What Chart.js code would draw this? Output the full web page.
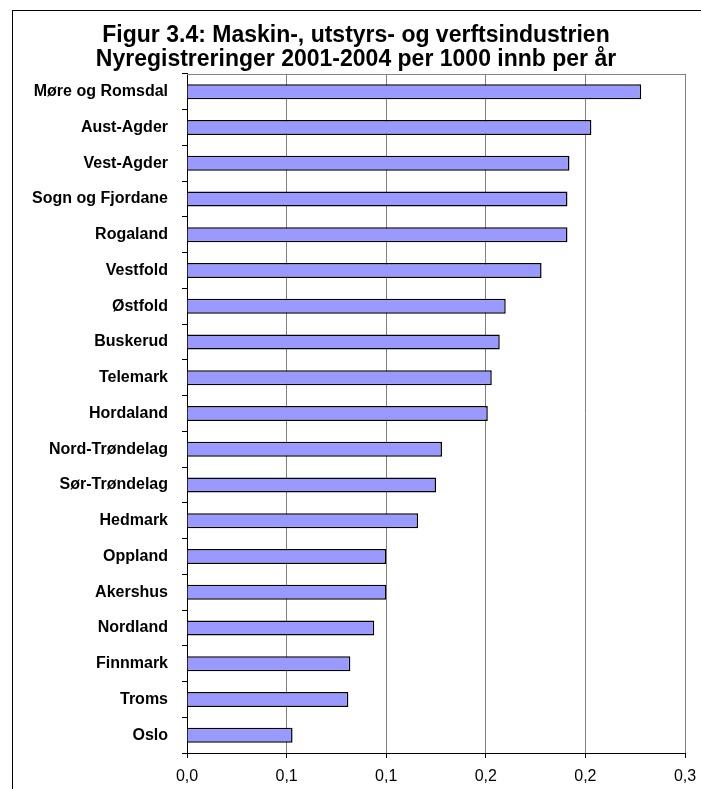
<!DOCTYPE html>
<html lang="no">
<head>
  <meta charset="UTF-8">
  <title>Figur 3.4</title>
  <script src="https://cdn.jsdelivr.net/npm/chart.js"></script>
  <style>
    html, body {
      margin: 0;
      padding: 0;
      background: #fff;
    }
    #chart-container {
      width: 701px;
      height: 789px;
    }
  </style>
</head>
<body>
  <div id="chart-container">
    <canvas id="myChart"></canvas>
  </div>

  <script>
    // fylker, sortert slik de står i figuren (øverst til nederst)
    const fylker = [
      'Møre og Romsdal', 'Aust-Agder', 'Vest-Agder', 'Sogn og Fjordane', 'Rogaland',
      'Vestfold', 'Østfold', 'Buskerud', 'Telemark', 'Hordaland',
      'Nord-Trøndelag', 'Sør-Trøndelag', 'Hedmark', 'Oppland', 'Akershus',
      'Nordland', 'Finnmark', 'Troms', 'Oslo'
    ];

    // nyregistreringer per 1000 innb per år
    const verdier = [
      0.228, 0.203, 0.192, 0.191, 0.191,
      0.178, 0.160, 0.157, 0.153, 0.151,
      0.128, 0.125, 0.116, 0.100, 0.100,
      0.094, 0.082, 0.081, 0.053
    ];

    // aksetekster slik Excel viste dem (en desimal)
    const xTickLabels = ['0,0', '0,1', '0,1', '0,2', '0,2', '0,3'];

    const tittel = [
      'Figur 3.4: Maskin-, utstyrs- og verftsindustrien',
      'Nyregistreringer 2001-2004 per 1000 innb per år'
    ];

    const fontFamily = "'Liberation Sans', Arial, sans-serif";

    // ramme rundt hele diagrammet og grå kant rundt plottet
    const rammePlugin = {
      id: 'ramme',
      beforeDraw(chart) {
        const { ctx } = chart;
        ctx.save();
        ctx.strokeStyle = '#000';
        ctx.lineWidth = 1;
        ctx.strokeRect(12.5, 10.5, chart.width + 10, chart.height + 10);
        ctx.restore();
      },
      afterDatasetsDraw(chart) {
        const { ctx, chartArea } = chart;
        ctx.save();
        ctx.strokeStyle = '#808080';
        ctx.lineWidth = 1;
        ctx.beginPath();
        ctx.moveTo(chartArea.left, chartArea.top + 0.5);
        ctx.lineTo(chartArea.right + 0.5, chartArea.top + 0.5);
        ctx.lineTo(chartArea.right + 0.5, chartArea.bottom);
        ctx.stroke();
        ctx.restore();
      }
    };

    const ctx = document.getElementById('myChart').getContext('2d');
    const myChart = new Chart(ctx, {
      type: 'bar',
      data: {
        labels: fylker,
        datasets: [{
          data: verdier,
          backgroundColor: '#9999FF',
          borderColor: '#000',
          borderWidth: 1.5,
          barPercentage: 0.42,
          categoryPercentage: 1
        }]
      },
      options: {
        indexAxis: 'y',
        responsive: true,
        maintainAspectRatio: false,
        animation: false,
        layout: {
          padding: { left: 27, right: 16, top: 0, bottom: 0 }
        },
        plugins: {
          legend: { display: false },
          tooltip: { enabled: false },
          title: {
            display: true,
            text: tittel,
            color: '#000',
            font: { family: fontFamily, size: 23, weight: 'bold', lineHeight: 1.043 },
            padding: { top: 24, bottom: 2 }
          }
        },
        scales: {
          x: {
            min: 0,
            max: 0.25,
            ticks: {
              stepSize: 0.05,
              autoSkip: false,
              maxRotation: 0,
              color: '#000',
              padding: 9,
              font: { family: fontFamily, size: 16 },
              callback: (value, index) => xTickLabels[index]
            },
            grid: {
              color: '#808080',
              tickColor: '#000',
              tickLength: 5
            },
            border: { color: '#000', width: 1 },
            afterFit: (scale) => {
              scale.height = 36;
              scale.paddingLeft = 0;
              scale.paddingRight = 0;
            }
          },
          y: {
            ticks: {
              color: '#000',
              padding: 14,
              font: { family: fontFamily, size: 16, weight: 'bold' }
            },
            grid: {
              offset: true,
              drawOnChartArea: false,
              tickColor: '#000',
              tickLength: 5
            },
            border: { color: '#000', width: 1 },
            afterFit: (scale) => { scale.width = 160; }
          }
        }
      },
      plugins: [rammePlugin]
    });
  </script>
</body>
</html>
